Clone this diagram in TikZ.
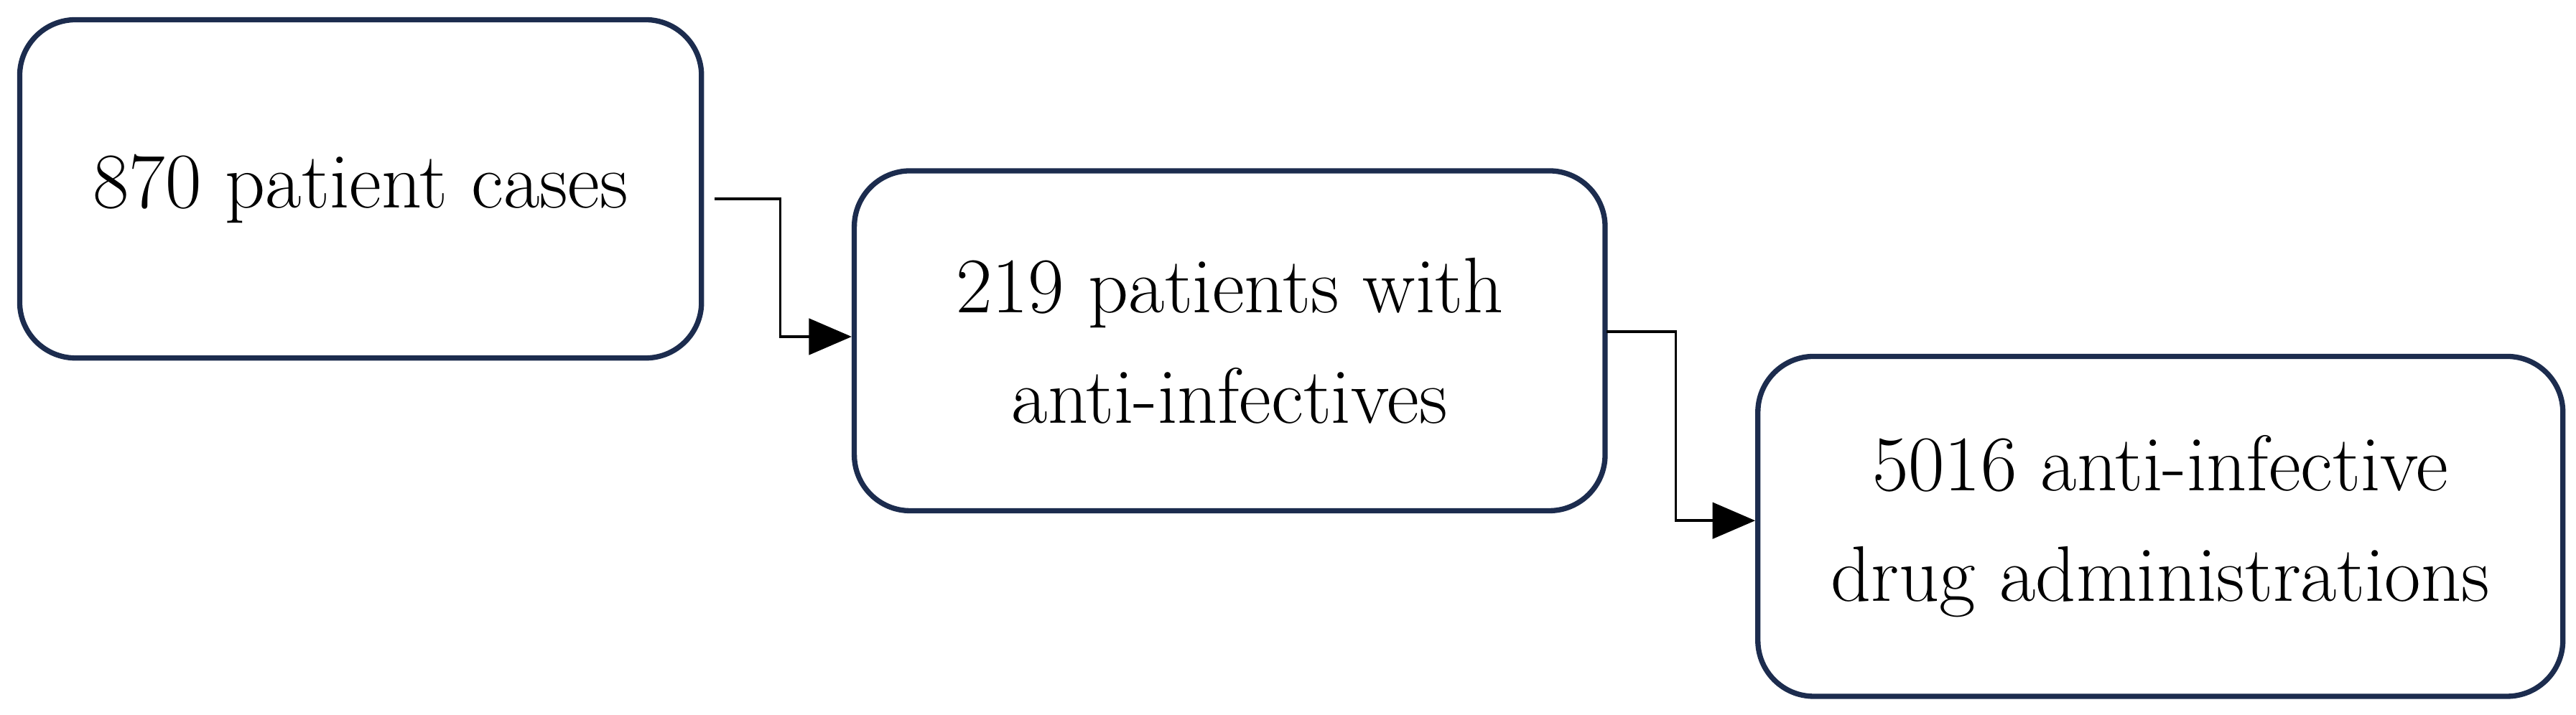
\documentclass[tikz,border=0pt]{standalone}
\usetikzlibrary{arrows.meta}
\definecolor{bx}{RGB}{28,44,78}
\begin{document}
\begin{tikzpicture}[x=0.5pt,y=-0.5pt,
 box/.style={draw=bx,line width=1.6pt,rounded corners=17pt,align=center,font=\fontsize{24}{33.5}\selectfont},
 con/.style={line width=0.8pt,-{Triangle[length=13pt,width=11pt]}}]
\useasboundingbox (0,0) rectangle (1568,435);
\node[box,minimum width=207.5pt,minimum height=103pt] (a) at (219.5,115) {870 patient cases};
\node[box,minimum width=228.5pt,minimum height=103.5pt] (b) at (748.5,207.5) {219 patients with\\anti-infectives};
\node[box,minimum width=245pt,minimum height=103.5pt] (c) at (1315,320.5) {5016 anti-infective\\drug administrations};
\coordinate (a1) at (435,121);
\coordinate (b1) at (978,202);
\draw[con] (a1) -- (475,121) -- (475,205) -- (b.west|-0,205);
\draw[con] (b1) -- (1020,202) -- (1020,317) -- (c.west|-0,317);
\end{tikzpicture}
\end{document}
